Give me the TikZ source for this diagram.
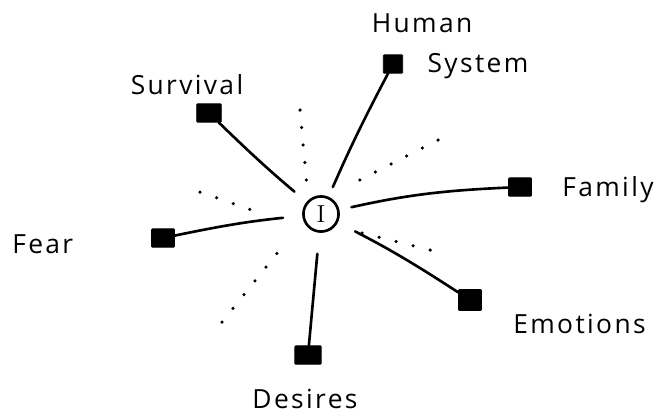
\documentclass[tikz,border=0pt]{standalone}
\usepackage{fontspec}
\setsansfont{Open Sans}[LetterSpace=9.0]
\usetikzlibrary{positioning}

\begin{document}
\begin{tikzpicture}[x=0.02cm, y=-0.02cm,
  spoke/.style={line width=1.5pt, line cap=round, shorten <=9pt},
  ray/.style={line width=2pt, line cap=round, dash pattern=on 0pt off 10pt},
  leaf/.style={fill=black, draw=black, rounded corners=0.5pt, inner sep=0pt, minimum width=13pt, minimum height=10.5pt},
  lbl/.style={font=\sffamily\fontsize{15}{17}\selectfont, inner sep=0pt}]
  \useasboundingbox (0,0) rectangle (655,414);

  % Centre
  \node[draw, circle, line width=1.5pt, minimum size=20pt, inner sep=0pt, font=\fontsize{14}{16}\selectfont] (me) at (321,214) {I};

  % Leaves
  \node[leaf, minimum width=11pt] (human) at (393,64) {};
  \node[leaf, minimum width=14pt] (survival) at (209,113) {};
  \node[leaf] (family) at (520,187) {};
  \node[leaf] (fear) at (163,238) {};
  \node[leaf, minimum height=12pt] (emotions) at (470,300) {};
  \node[leaf, minimum width=15pt] (desires) at (308,355) {};

  % Labels
  \node[lbl, anchor=base] (humantxt) at (422,32) {Human};
  \node[lbl, anchor=base] (systemtxt) at (478,72) {System};
  \node[lbl, anchor=base] (survivaltxt) at (187,94) {Survival};
  \node[lbl, anchor=base west] (familytxt) at (562,196) {Family};
  \node[lbl, anchor=base west] (feartxt) at (12,253) {Fear};
  \node[lbl, anchor=base west] (emotionstxt) at (513,333) {Emotions};
  \node[lbl, anchor=base] (desirestxt) at (305,408) {Desires};

  % Spokes
  \draw[spoke, shorten <=6pt] (me) to[bend left=2] (human);
  \draw[spoke] (me) to[bend left=2] (survival);
  \draw[spoke, shorten <=7pt] (me) to[bend left=5] (family);
  \draw[spoke, shorten <=11pt] (me) to[bend right=3] (fear);
  \draw[spoke, shorten <=11pt] (me) to[bend left=3] (emotions);
  \draw[spoke, shorten <=12pt] (me) -- (desires);

  % Dotted rays
  \draw[ray] (300,110) -- (307,187);
  \draw[ray] (438,140) -- (350,185);
  \draw[ray] (200,192) -- (260,213);
  \draw[ray] (222,322) -- (286,242);
  \draw[ray] (362,233) -- (438,252);
\end{tikzpicture}
\end{document}
